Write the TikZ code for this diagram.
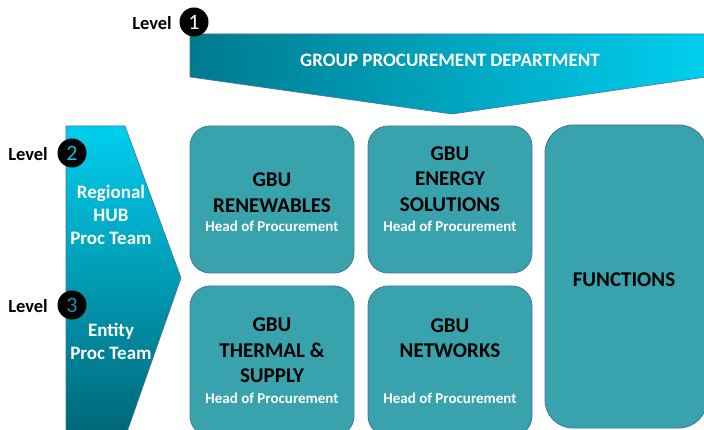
\documentclass[tikz,border=0pt]{standalone}
\usepackage{fontspec}
\setmainfont{Carlito}
\usetikzlibrary{shapes.geometric}
\definecolor{boxfill}{HTML}{38A3AD}
\definecolor{boxline}{HTML}{4A72A0}
\definecolor{darkteal}{HTML}{007A8E}
\definecolor{cyanlight}{HTML}{00CEEE}
\definecolor{numcyan}{HTML}{19B8D8}
\definecolor{numteal}{HTML}{1E8FA8}
\tikzset{
  gbox/.style={draw=boxline, line width=0.8pt, fill=boxfill, rounded corners=20pt, inner sep=0pt},
  title/.style={font=\bfseries\fontsize{21}{25.5}\selectfont, text=black, align=center, inner sep=0pt},
  sub/.style={font=\bfseries\fontsize{15}{17}\selectfont, text=white, inner sep=0pt},
  white label/.style={font=\bfseries\fontsize{19}{23}\selectfont, text=white, align=center, inner sep=0pt},
  levtxt/.style={font=\bfseries\fontsize{18.5}{20}\selectfont, text=black, inner sep=0pt},
  levnum/.style={circle, fill=black, minimum size=29pt, inner sep=0pt, font=\fontsize{22}{22}\selectfont}
}
\begin{document}
\begin{tikzpicture}[x=1pt,y=-1pt]
\useasboundingbox (0,0) rectangle (704,430);
\clip (0,0) rectangle (704,430);
% top banner
\shade[left color=darkteal, right color=cyanlight, draw=boxline, line width=0.6pt]
  (190,34) -- (706,34) -- (706,77) -- (452,114) -- (190,77) -- cycle;
\node[font=\bfseries\fontsize{19}{22}\selectfont, text=white, inner sep=0pt] (gpd) at (450,60) {GROUP PROCUREMENT DEPARTMENT};
% left arrow
\shade[top color=cyanlight, bottom color=darkteal!85!black, draw=boxline, line width=0.6pt]
  (66,126) -- (125,126) -- (181,278) -- (127,432) -- (66,432) -- cycle;
\node[white label] (hub) at (111,215) {Regional\\HUB\\Proc Team};
\node[white label] (entity) at (111,341.5) {Entity\\Proc Team};
% levels
\node[levtxt, anchor=east] (l1) at (172,23) {Level};
\node[levnum, text=white] (c1) at (194,22) {1};
\node[levtxt, anchor=east] (l2) at (48,154) {Level};
\node[levnum, text=numcyan] (c2) at (72,153) {2};
\node[levtxt, anchor=east] (l3) at (48,306) {Level};
\node[levnum, text=numteal] (c3) at (72,305) {3};
% boxes
\node[gbox, minimum width=164pt, minimum height=147pt] (b1) at (272,199.5) {};
\node[gbox, minimum width=164pt, minimum height=147pt] (b2) at (450,199.5) {};
\node[gbox, minimum width=164pt, minimum height=150pt] (b3) at (272,361) {};
\node[gbox, minimum width=164pt, minimum height=150pt] (b4) at (450,361) {};
\node[gbox, rounded corners=28pt, minimum width=162pt, minimum height=303pt] (b5) at (626,276.5) {};
% box texts
\node[title] (t1) at (272,192.5) {GBU\\RENEWABLES};
\node[sub] (s1) at (272,226) {Head of Procurement};
\node[title] (t2) at (450,179) {GBU\\ENERGY\\SOLUTIONS};
\node[sub] (s2) at (450,226) {Head of Procurement};
\node[title] (t3) at (272,350.5) {GBU\\THERMAL \&\\SUPPLY};
\node[sub] (s3) at (272,398) {Head of Procurement};
\node[title] (t4) at (450,338) {GBU\\NETWORKS};
\node[sub] (s4) at (450,398) {Head of Procurement};
\node[title] (t5) at (624,280) {FUNCTIONS};
\end{tikzpicture}
\end{document}
